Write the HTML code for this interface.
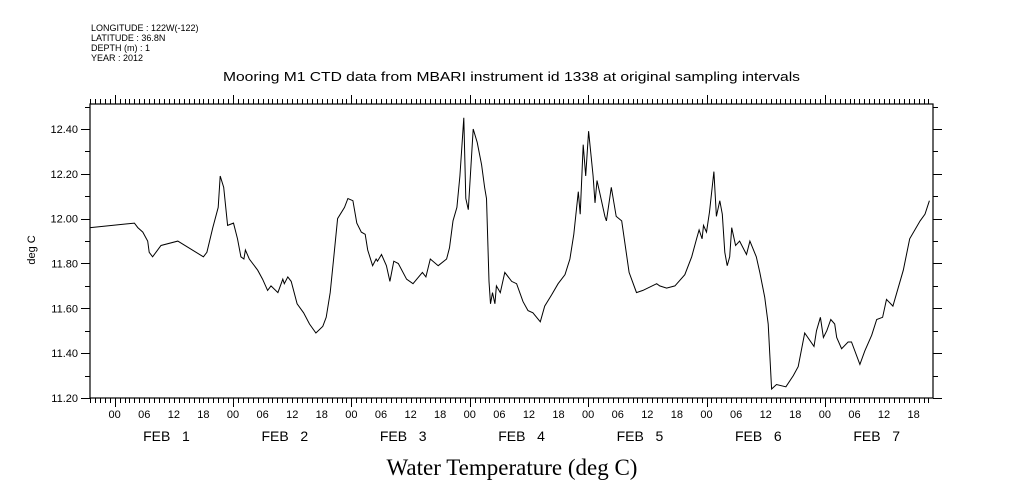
<!DOCTYPE html>
<html><head><meta charset="utf-8"><style>
html,body{margin:0;padding:0;background:#fff;}
svg{display:block;font-family:"Liberation Sans",sans-serif;}
.day{white-space:pre;}
</style></head><body>
<svg id="chart" width="1009" height="504" viewBox="0 0 1009 504" xmlns="http://www.w3.org/2000/svg">
<g font-size="9" fill="#000">
<text x="91" y="31">LONGITUDE : 122W(-122)</text>
<text x="91" y="41">LATITUDE : 36.8N</text>
<text x="91" y="51">DEPTH (m) : 1</text>
<text x="91" y="61">YEAR : 2012</text>
</g>
<text x="223" y="81" font-size="13" textLength="577" lengthAdjust="spacingAndGlyphs">Mooring M1 CTD data from MBARI instrument id 1338 at original sampling intervals</text>
<text transform="translate(35,250) rotate(-90)" text-anchor="middle" font-size="11">deg C</text>
<text x="512" y="475" text-anchor="middle" font-family="'Liberation Serif',serif" font-size="23">Water Temperature (deg C)</text>
<g id="axes"></g>
<g id="ticks"></g>
<g id="labels"></g>
<path id="line" fill="none" stroke="#000" stroke-width="1"/>
</svg>
<script>
const hours = [-4.9,4.0,4.7,5.7,6.7,7.0,7.7,9.4,12.8,18.0,18.7,19.9,21.0,21.4,22.1,22.9,24.1,24.9,25.6,26.2,26.5,27.3,29.0,30.0,31.0,31.7,33.1,34.1,34.4,35.1,35.8,37.0,38.3,39.5,40.8,42.2,42.9,43.7,44.4,45.2,46.6,47.3,48.3,49.1,50.0,50.8,51.3,52.3,53.0,53.3,54.1,55.1,55.8,56.6,57.5,59.2,60.5,62.4,63.1,64.0,65.6,67.3,67.9,68.6,69.4,70.0,70.8,71.2,71.7,72.7,73.5,74.4,75.0,75.4,75.9,76.2,76.6,77.1,77.4,78.2,79.1,80.5,81.5,82.8,83.8,84.8,86.3,87.2,88.6,89.9,91.3,92.3,93.1,94.0,94.4,95.0,95.5,96.1,97.0,97.4,97.8,98.4,99.4,99.7,100.7,101.7,102.8,103.4,104.3,105.8,107.1,109.9,110.5,111.9,113.6,115.6,117.0,118.0,118.5,119.1,119.4,120.0,120.6,121.5,122.0,122.7,123.2,123.7,124.2,124.7,125.1,125.9,126.7,128.1,128.8,130.1,130.8,131.8,132.5,133.2,134.2,136.1,137.6,138.6,139.9,141.8,142.3,143.1,143.7,144.4,145.2,146.0,146.4,147.4,148.7,149.4,151.1,152.1,153.5,154.5,155.7,156.5,157.8,159.9,161.2,163.3,164.3,165.2];
const temps = [11.96,11.98,11.96,11.94,11.90,11.85,11.83,11.88,11.90,11.83,11.85,11.96,12.05,12.19,12.14,11.97,11.98,11.91,11.83,11.82,11.86,11.82,11.77,11.73,11.68,11.70,11.67,11.73,11.71,11.74,11.72,11.62,11.58,11.53,11.49,11.52,11.56,11.67,11.82,12.00,12.05,12.09,12.08,11.98,11.94,11.93,11.86,11.79,11.82,11.81,11.84,11.79,11.72,11.81,11.80,11.73,11.71,11.76,11.74,11.82,11.79,11.82,11.87,11.99,12.05,12.19,12.45,12.09,12.04,12.40,12.34,12.24,12.14,12.09,11.72,11.62,11.67,11.62,11.70,11.67,11.76,11.72,11.71,11.63,11.59,11.58,11.54,11.61,11.66,11.71,11.75,11.82,11.93,12.12,12.02,12.33,12.19,12.39,12.19,12.07,12.17,12.11,12.01,11.99,12.14,12.01,11.99,11.90,11.76,11.67,11.68,11.71,11.70,11.69,11.70,11.75,11.83,11.91,11.95,11.91,11.97,11.94,12.03,12.21,12.01,12.08,12.02,11.85,11.79,11.83,11.96,11.88,11.90,11.84,11.90,11.83,11.76,11.65,11.53,11.24,11.26,11.25,11.30,11.34,11.49,11.43,11.50,11.56,11.47,11.50,11.55,11.53,11.47,11.42,11.45,11.45,11.35,11.41,11.48,11.55,11.56,11.64,11.61,11.77,11.91,11.99,12.02,12.08];
const yTickLabels = ["11.20","11.40","11.60","11.80","12.00","12.20","12.40"];
const hourLabels = ["00","06","12","18"];
const dayLabels = ["FEB   1","FEB   2","FEB   3","FEB   4","FEB   5","FEB   6","FEB   7"];

const X0=90, X1=933, Y0=104, Y1=398;
const hMin=-5, hMax=(933-115)/4.93;
const vMin=11.2, vMax=11.2+(398-104)/224.2;
function xs(h){return X0+(h-hMin)/(hMax-hMin)*(X1-X0);}
function ys(v){return Y1-(v-vMin)/(vMax-vMin)*(Y1-Y0);}
const NS="http://www.w3.org/2000/svg";
function mk(tag,parent,attrs){const e=document.createElementNS(NS,tag);for(const k in attrs)e.setAttribute(k,attrs[k]);parent.appendChild(e);return e;}

const axes=document.getElementById('axes');
const frame=mk('rect',axes,{x:X0,y:Y0,width:X1-X0,height:Y1-Y0,fill:'none',stroke:'#000','stroke-width':1.2});



const ticks=document.getElementById('ticks');
let d='';
for(let h=Math.ceil(hMin);h<=hMax;h++){
  const x=Math.round(xs(h))+0.5;
  const big=((h%24)+24)%24===0;
  const L=big?9:5;
  d+=`M${x} ${Y1}V${Y1+L}M${x} ${Y0}V${Y0-L}`;
}
for(let i=0;i<=13;i++){
  const v=11.2+i*0.1; if(v>vMax) break;
  const y=Math.round(ys(v))+0.5;
  const L=(i%2===0)?9:5;
  d+=`M${X0-L} ${y}H${X0}M${X1} ${y}H${X1+L}`;
}
const tp=mk('path',ticks,{d:d,stroke:'#000','stroke-width':1,fill:'none'});



const labels=document.getElementById('labels');
yTickLabels.forEach(function(s){
  const t=mk('text',labels,{x:X0-12,y:ys(parseFloat(s))+4,'text-anchor':'end','font-size':11});
  t.textContent=s;
  
  
});
for(let day=0;day<7;day++){
  hourLabels.forEach(function(s){
    const h=day*24+parseInt(s,10);
    if(h>hMax) return;
    const t=mk('text',labels,{x:xs(h),y:418,'text-anchor':'middle','font-size':11});
    t.textContent=s;
    
    
  });
  const t=mk('text',labels,{x:xs(day*24+10.5),y:441,'text-anchor':'middle','font-size':14,'class':'day'});
  t.textContent=dayLabels[day];
  
  
}

let p='';
for(let i=0;i<hours.length;i++){p+=(i?'L':'M')+xs(hours[i]).toFixed(1)+' '+ys(temps[i]).toFixed(1);}
document.getElementById('line').setAttribute('d',p);
</script>
</body></html>
